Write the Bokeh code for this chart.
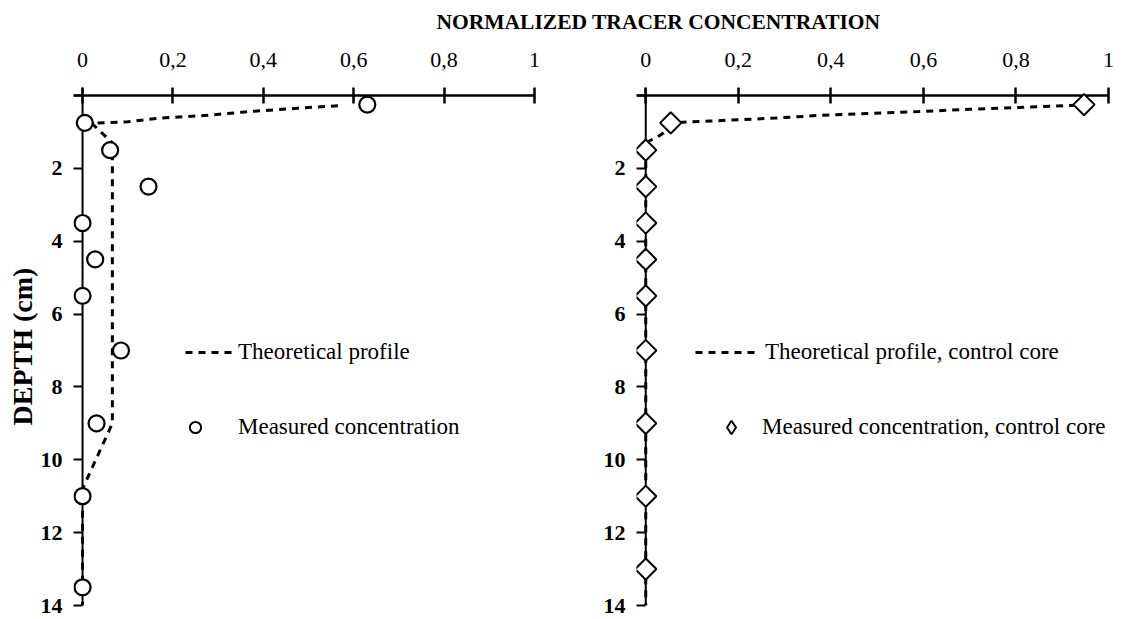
import math
import numpy as np
from bokeh.plotting import figure
from bokeh.models import (Range1d, FixedTicker, Label, Legend, LegendItem,
                          ColumnDataSource, Span)
from bokeh.layouts import column, row
from bokeh.embed import file_html
from bokeh.resources import INLINE

# ---------------- data ----------------
x_ticks = [0, 0.2, 0.4, 0.6, 0.8, 1]
x_tick_labels = ["0", "0,2", "0,4", "0,6", "0,8", "1"]
y_ticks = [0, 2, 4, 6, 8, 10, 12, 14]
y_tick_labels = ["", "2", "4", "6", "8", "10", "12", "14"]

# left panel: measured concentration (circles)
meas_depth = [0.25, 0.75, 1.5, 2.5, 3.5, 4.5, 5.5, 7.0, 9.0, 11.0, 13.5]
meas_conc = [0.63, 0.005, 0.061, 0.146, 0.0, 0.028, 0.0, 0.085, 0.031, 0.0, 0.0]

# left panel: theoretical profile (dashed)
theo_depth = [0.28, 0.35, 0.45, 0.54, 0.62, 0.72, 0.76, 1.3, 5.0, 9.0, 10.8, 14.0]
theo_conc = [0.565, 0.475, 0.36, 0.28, 0.17, 0.10, 0.02, 0.066, 0.066, 0.066, 0.0, 0.0]

# right panel: measured concentration, control core (diamonds)
ctrl_depth = [0.25, 0.75, 1.5, 2.5, 3.5, 4.5, 5.5, 7.0, 9.0, 11.0, 13.0]
ctrl_conc = [0.947, 0.054, 0.0, 0.0, 0.0, 0.0, 0.0, 0.0, 0.0, 0.0, 0.0]

# right panel: theoretical profile, control core (dashed)
ctrl_theo_depth = [0.27, 0.33, 0.38, 0.44, 0.55, 0.62, 0.70, 0.74, 1.10, 1.3, 14.0]
ctrl_theo_conc = [0.93, 0.80, 0.70, 0.59, 0.37, 0.28, 0.14, 0.07, 0.03, 0.0, 0.0]

title_text = "NORMALIZED TRACER CONCENTRATION"
ylabel_text = "DEPTH (cm)"
leg_left = ["Theoretical profile", "Measured concentration"]
leg_right = ["Theoretical profile, control core", "Measured concentration, control core"]

FONT = "Liberation Serif"
DASH = "7 6"


def panel(frame_width, border_left, border_right):
    p = figure(output_backend="svg", toolbar_location=None,
               x_range=Range1d(-0.02, 1), y_range=Range1d(14, -0.22),
               x_axis_location="above", y_axis_location="left",
               frame_width=frame_width, frame_height=518,
               min_border_left=border_left, min_border_right=border_right,
               min_border_top=53, min_border_bottom=12)
    p.outline_line_color = None
    p.grid.visible = False
    p.background_fill_color = "white"
    p.border_fill_color = "white"

    # axis lines at concentration 0 and depth 0 (drawn beneath the markers)
    p.add_layout(Span(location=0, dimension="width", line_color="black",
                      line_width=2.5, level="underlay"))
    p.add_layout(Span(location=0, dimension="height", line_color="black",
                      line_width=2, level="underlay"))

    xa = p.xaxis[0]
    xa.ticker = FixedTicker(ticks=x_ticks)
    xa.major_label_overrides = {t: l for t, l in zip(x_ticks, x_tick_labels)}
    xa.axis_line_color = None
    xa.major_tick_in = 16
    xa.major_tick_out = 0
    xa.minor_tick_in = 0
    xa.minor_tick_out = 0
    xa.major_tick_line_width = 2.5
    xa.major_tick_line_color = "black"
    xa.major_label_text_font = FONT
    xa.major_label_text_font_size = "22px"
    xa.major_label_text_color = "black"
    xa.major_label_standoff = 21

    ya = p.yaxis[0]
    ya.ticker = FixedTicker(ticks=y_ticks)
    ya.major_label_overrides = {t: l for t, l in zip(y_ticks, y_tick_labels)}
    ya.axis_line_color = None
    ya.major_tick_in = 9
    ya.major_tick_out = 0
    ya.minor_tick_in = 0
    ya.minor_tick_out = 0
    ya.major_tick_line_width = 2
    ya.major_tick_line_color = "black"
    ya.major_label_text_font = FONT
    ya.major_label_text_font_size = "22px"
    ya.major_label_text_font_style = "bold"
    ya.major_label_text_color = "black"
    ya.major_label_standoff = 11
    return p


def add_legend(p, renderer, label, x, y, glyph_width, glyph_height, standoff):
    leg = Legend(items=[LegendItem(label=label, renderers=[renderer])],
                 location=(x, y), orientation="vertical",
                 glyph_width=glyph_width, glyph_height=glyph_height,
                 label_height=20, label_standoff=standoff,
                 padding=0, margin=0, spacing=0,
                 border_line_alpha=0, background_fill_alpha=0,
                 label_text_font=FONT, label_text_font_size="23px",
                 label_text_color="black", inactive_fill_alpha=0)
    p.add_layout(leg)


def proxy_source():
    return ColumnDataSource(dict(x=np.array([np.nan]), y=np.array([np.nan])))


# ---------------- left panel ----------------
left = panel(461, 73, 20)
left.line(theo_conc, theo_depth, line_color="black", line_width=3, line_dash=DASH)
left.scatter(meas_conc, meas_depth, marker="circle", size=16, fill_color="white",
             line_color="black", line_width=2.2)
lg_line = left.line(x="x", y="y", source=proxy_source(),
                    line_color="black", line_width=3, line_dash=DASH)
lg_mark = left.scatter(x="x", y="y", source=proxy_source(),
                       marker="circle", fill_color="white",
                       line_color="black", line_width=2)
add_legend(left, lg_line, leg_left[0], 112, 240, 50, 20, 3)
add_legend(left, lg_mark, leg_left[1], 108, 164, 28, 28, 29)
ya = left.yaxis[0]
ya.axis_label = ylabel_text
ya.axis_label_text_font = FONT
ya.axis_label_text_font_size = "28px"
ya.axis_label_text_font_style = "bold"
ya.axis_label_text_color = "black"
ya.axis_label_standoff = 0

# ---------------- right panel ----------------
right = panel(472, 82, 20)
right.line(ctrl_theo_conc, ctrl_theo_depth, line_color="black", line_width=3,
           line_dash=DASH)
right.scatter(ctrl_conc, ctrl_depth, marker="square", angle=math.pi / 4, size=15,
              fill_color="white", line_color="black", line_width=2)
rg_line = right.line(x="x", y="y", source=proxy_source(),
                     line_color="black", line_width=3, line_dash=DASH)
rg_mark = right.scatter(x="x", y="y", source=proxy_source(),
                        marker="diamond", fill_color="white",
                        line_color="black", line_width=2)
add_legend(right, rg_line, leg_right[0], 59, 240, 63, 20, 7)
add_legend(right, rg_mark, leg_right[1], 78, 161, 34, 34, 14)

# ---------------- title strip ----------------
top = figure(output_backend="svg", toolbar_location=None, width=1128, height=34,
             x_range=Range1d(0, 1), y_range=Range1d(0, 1),
             x_axis_location=None, y_axis_location=None, min_border=0)
top.outline_line_color = None
top.grid.visible = False
top.add_layout(Label(x=658, y=13, x_units="screen", y_units="screen",
                     text=title_text, text_align="center", text_baseline="middle",
                     text_font=FONT, text_font_size="21.5px", text_font_style="bold",
                     text_color="black"))

layout = column(top, row(left, right, spacing=0), spacing=0)

with open("out.html", "w") as f:
    f.write(file_html(layout, INLINE))
